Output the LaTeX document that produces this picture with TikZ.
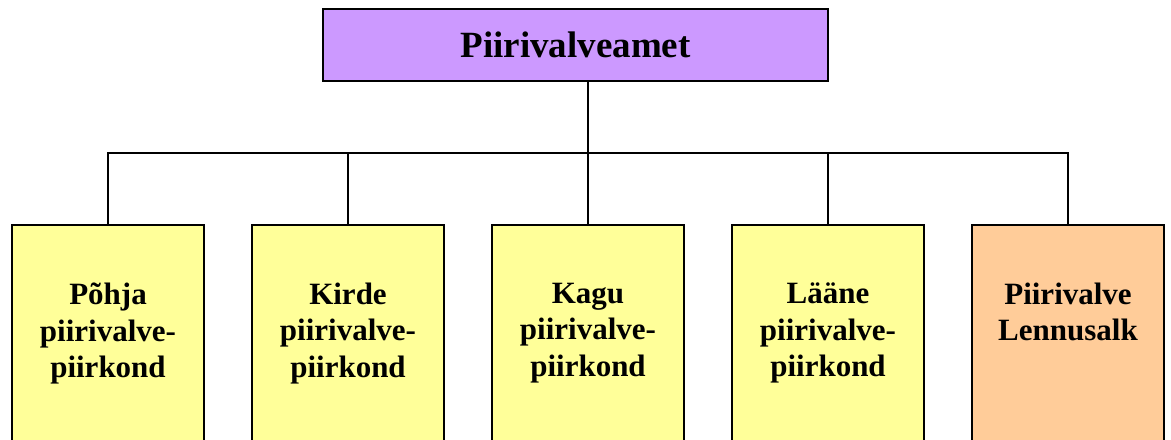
\documentclass[tikz,border=0pt]{standalone}
\usepackage{fontspec}
\setmainfont{Liberation Serif}
\usepackage{tikz}
\usetikzlibrary{positioning,calc}
\definecolor{ametviolet}{HTML}{CC99FF}
\definecolor{unityellow}{HTML}{FFFF99}
\definecolor{unitorange}{HTML}{FFCC99}

\begin{document}
\begin{tikzpicture}[x=0.5pt,y=-0.5pt,
amet/.style={draw=black, fill=ametviolet, line width=1pt, minimum width=252.5pt, minimum height=36pt, inner sep=0pt, outer sep=0pt, font=\fontsize{18.5}{22}\selectfont\bfseries},
unit/.style={draw=black, line width=1pt, anchor=north, minimum width=96pt, minimum height=130pt, inner sep=0pt, outer sep=0pt},
yel/.style={unit, fill=unityellow},
org/.style={unit, fill=unitorange},
utext/.style={anchor=north, align=center, inner sep=0pt, font=\fontsize{15.5}{18.25}\selectfont\bfseries},
conn/.style={line width=1pt, draw=black}
]
\def\unittext(#1:#2){
\node[utext] (#1t) at ([yshift=-28.75pt]#1.north) {#2};
}
\clip (0,0) rectangle (1171,439);
% Create the boxes
\node[amet] (amet) at (575.5,45) {Piirivalveamet};
\node[yel] (pohja) at (108,225) {};
\node[yel, right=24pt of pohja] (kirde) {};
\node[yel, right=24pt of kirde] (kagu) {};
\node[yel, right=24pt of kagu] (laane) {};
\node[org, right=24pt of laane] (lennu) {};
\unittext(pohja:Põhja\\piirivalve-\\piirkond);
\unittext(kirde:Kirde\\piirivalve-\\piirkond);
\unittext(kagu:Kagu\\piirivalve-\\piirkond);
\unittext(laane:Lääne\\piirivalve-\\piirkond);
\unittext(lennu:Piirivalve\\Lennusalk);
% Create the connectors
\coordinate (bus) at ($(kagu.north)+(0,-72)$);
\draw[conn] (bus |- amet.south) -- (bus);
\draw[conn] (pohja.north) |- (bus); \draw[conn] (kirde.north) |- (bus);
\draw[conn] (kagu.north) -- (bus);
\draw[conn] (laane.north) |- (bus); \draw[conn] (lennu.north) |- (bus);
\end{tikzpicture}
\end{document}
